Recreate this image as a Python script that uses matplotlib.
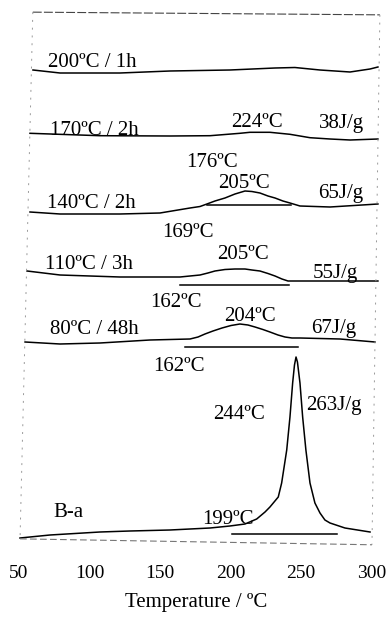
# DSC thermograms of B-a after different annealing treatments
import numpy as np
import matplotlib.pyplot as plt

plt.rcParams['font.family'] = ['Liberation Serif', 'DejaVu Serif']

# curves: temperature (C) and heat flow (arb. units, stacked)
t_200 = [59.9, 79.1, 121.6, 157.1, 199.6, 231.6, 245.7, 263.5, 284.8, 299.0, 304.6]
h_200 = [47.8, 47.5, 47.5, 47.7, 47.8, 48.0, 48.05, 47.8, 47.6, 47.9, 48.1]

t_170 = [57.8, 107.4, 157.1, 185.5, 206.7, 213.8, 228.0, 242.2, 256.4, 270.6, 284.8, 304.6]
h_170 = [41.47, 41.23, 41.2, 41.23, 41.47, 41.57, 41.57, 41.37, 41.03, 40.9, 40.8, 40.9]

t_140 = [57.8, 79.1, 121.6, 150.0, 171.3, 178.4, 183.3, 189.0, 196.1, 203.2, 210.3,
         215.2, 220.9, 226.6, 231.6, 237.2, 242.2, 249.3, 270.6, 304.6]
h_140 = [33.6, 33.4, 33.4, 33.5, 34.0, 34.15, 34.4, 34.7, 35.0, 35.4, 35.7,
         35.65, 35.5, 35.2, 35.0, 34.7, 34.5, 34.2, 34.1, 34.4]

t_110 = [55.7, 79.1, 121.6, 164.2, 178.4, 184.0, 189.0, 196.1, 203.2, 210.3, 215.2,
         220.9, 226.6, 231.6, 236.5, 240.8, 249.3, 304.6]
h_110 = [27.7, 27.3, 27.1, 27.1, 27.3, 27.5, 27.7, 27.85, 27.9, 27.9, 27.8,
         27.7, 27.45, 27.2, 26.9, 26.7, 26.7, 26.7]

t_80 = [54.3, 79.1, 107.4, 142.9, 171.3, 177.0, 181.9, 187.6, 194.0, 200.4, 206.7,
        212.4, 217.4, 223.0, 228.0, 233.7, 238.7, 243.6, 249.3, 277.7, 302.5]
h_80 = [20.6, 20.4, 20.5, 20.8, 20.9, 21.1, 21.4, 21.7, 22.0, 22.25, 22.4,
        22.3, 22.1, 21.85, 21.6, 21.3, 21.1, 21.0, 21.0, 20.9, 20.6]

t_ba = [50.7, 72.0, 107.4, 128.7, 157.1, 185.5, 199.6, 210.3, 218.6, 224.5, 228.0, 233.9,
        236.3, 239.9, 242.2, 244.1, 245.4, 246.5, 247.5, 249.3, 251.2, 253.5, 256.4,
        259.9, 263.5, 267.0, 270.6, 281.2, 299.0]
h_ba = [1.0, 1.3, 1.6, 1.7, 1.8, 2.0, 2.2, 2.4, 2.9, 3.6, 4.1, 5.1,
        6.5, 9.8, 13.1, 16.5, 18.3, 19.1, 18.6, 16.5, 13.1, 9.8, 6.5,
        4.5, 3.5, 2.8, 2.5, 2.0, 1.6]

curves = [(t_200, h_200), (t_170, h_170), (t_140, h_140),
          (t_110, h_110), (t_80, h_80), (t_ba, h_ba)]

# integration baselines (start, end, level)
base_t0 = [183.3, 164.2, 167.7, 201.1]
base_t1 = [242.8, 241.5, 247.9, 275.5]
base_h = [34.3, 26.3, 20.1, 1.4]

# annotations: text, T, heat flow, alignment
labels = [
    ('200ºC / 1h', 70.6, 48.1, 'left'),
    ('170ºC / 2h', 72.0, 41.3, 'left'),
    ('224ºC', 218.8, 42.1, 'center'),
    ('38J/g', 278.4, 42.0, 'center'),
    ('176ºC', 186.9, 38.1, 'center'),
    ('205ºC', 209.6, 36.0, 'center'),
    ('65J/g', 278.4, 35.0, 'center'),
    ('140ºC / 2h', 69.9, 34.0, 'left'),
    ('169ºC', 169.9, 31.1, 'center'),
    ('205ºC', 208.9, 28.9, 'center'),
    ('110ºC / 3h', 68.4, 27.9, 'left'),
    ('55J/g', 274.1, 27.0, 'center'),
    ('162ºC', 161.3, 24.1, 'center'),
    ('204ºC', 213.8, 22.7, 'center'),
    ('80ºC / 48h', 72.0, 21.4, 'left'),
    ('67J/g', 273.4, 21.5, 'center'),
    ('162ºC', 163.5, 17.7, 'center'),
    ('244ºC', 206.0, 12.9, 'center'),
    ('263J/g', 273.4, 13.8, 'center'),
    ('B-a', 84.8, 3.1, 'center'),
    ('199ºC', 198.2, 2.4, 'center'),
]

xticks = [50, 100, 150, 200, 250, 300]

fig = plt.figure(figsize=(3.87, 6.23), dpi=100)
ax = fig.add_axes([8 / 387, 75 / 623, 376 / 387, 538 / 623])

for t, h in curves:
    ax.plot(t, h, color='black', lw=1.1)
for a, b, c in zip(base_t0, base_t1, base_h):
    ax.plot([a, b], [c, c], color='black', lw=1.1)

for s, x, y, ha in labels:
    ax.text(x, y, s, ha=ha, va='baseline', fontsize=15)

ax.set_xlim(42.2, 308.9)
ax.set_ylim(0, 53.8)
ax.set_yticks([])
ax.set_xticks(xticks)
ax.set_xticklabels([str(v) for v in xticks], fontsize=14)
ax.tick_params(axis='x', length=0, pad=12)
ax.set_xlabel('Temperature / ºC', fontsize=15, labelpad=8)
for sp in ax.spines.values():
    sp.set_visible(False)

# scanned, slightly skewed frame
tr = ax.transAxes
ax.plot([0.066, 0.989], [0.996, 0.991], transform=tr, color='#444444', lw=0.8,
        ls=(0, (8, 2)), clip_on=False)
ax.plot([0.066, 0.032], [0.996, 0.017], transform=tr, color='#999999', lw=0.7,
        ls=(0, (2, 6)), clip_on=False)
ax.plot([0.989, 0.968], [0.991, 0.006], transform=tr, color='#999999', lw=0.7,
        ls=(0, (2, 6)), clip_on=False)
ax.plot([0.032, 0.968], [0.017, 0.006], transform=tr, color='#777777', lw=0.8,
        ls=(0, (6, 3)), clip_on=False)

fig.savefig('out.png', dpi=100)
